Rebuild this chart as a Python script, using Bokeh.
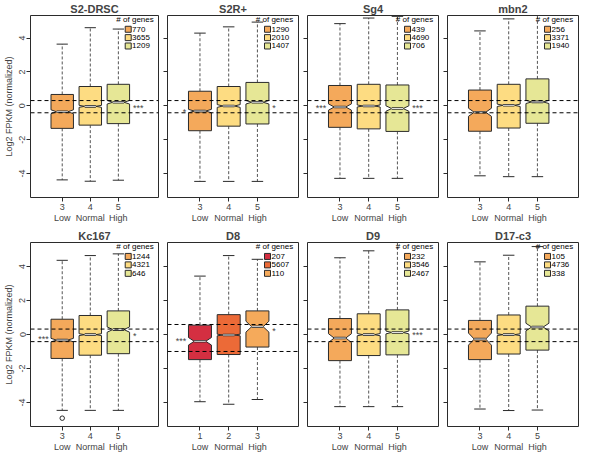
import math
from bokeh.plotting import figure
from bokeh.layouts import column, row
from bokeh.models import Range1d, LinearAxis, FixedTicker, Span
from bokeh.embed import file_html
from bokeh.resources import INLINE
from bokeh.core.properties import value

FONT = "Liberation Sans"

# ---------------- data ----------------
panel_names = ["S2-DRSC", "S2R+", "Sg4", "mbn2", "Kc167", "D8", "D9", "D17-c3"]
group_labels = ["Low", "Normal", "High"]
group_numbers = [["3", "4", "5"], ["3", "4", "5"], ["3", "4", "5"], ["3", "4", "5"],
                 ["3", "4", "5"], ["1", "2", "3"], ["3", "4", "5"], ["3", "4", "5"]]
gene_counts = [[770, 3655, 1209], [1290, 2010, 1407], [439, 4690, 706], [256, 3371, 1940],
               [1244, 4321, 646], [207, 5607, 110], [232, 3546, 2467], [105, 4736, 338]]

whisker_low = [[-4.37, -4.45, -4.39], [-4.46, -4.46, -4.46], [-4.28, -4.28, -4.28], [-4.13, -4.18, -4.18],
               [-4.47, -4.47, -4.47], [-3.96, -4.11, -3.83], [-4.25, -4.25, -4.25], [-4.39, -4.48, -4.45]]
quart1 = [[-1.33, -1.14, -1.05], [-1.47, -1.20, -1.07], [-1.27, -1.36, -1.51], [-1.50, -1.31, -1.03],
          [-1.41, -1.22, -1.13], [-1.48, -1.18, -0.74], [-1.54, -1.24, -1.20], [-1.48, -1.15, -0.92]]
medians = [[-0.35, -0.03, 0.21], [-0.31, -0.01, 0.21], [-0.07, -0.01, -0.16], [-0.38, 0.03, 0.23],
           [-0.33, -0.01, 0.29], [-0.40, -0.03, 0.46], [-0.21, -0.01, 0.12], [-0.27, -0.01, 0.44]]
quart3 = [[0.67, 1.14, 1.27], [0.86, 1.14, 1.38], [1.20, 1.27, 1.23], [0.93, 1.27, 1.59],
          [0.90, 1.12, 1.39], [0.55, 1.17, 1.39], [0.94, 1.22, 1.45], [0.83, 1.15, 1.67]]
whisker_high = [[3.64, 4.61, 4.53], [4.29, 4.66, 4.94], [4.85, 5.18, 5.28], [4.42, 5.13, 5.40],
                [4.37, 4.65, 4.75], [3.44, 4.65, 4.43], [4.52, 4.93, 5.45], [4.28, 4.67, 5.18]]

ref_upper = [0.31, 0.31, 0.31, 0.31, 0.32, 0.59, 0.32, 0.32]
ref_lower = [-0.41, -0.41, -0.41, -0.41, -0.42, -1.00, -0.42, -0.42]

star_left = ["", "*", "***", "", "***", "***", "", ""]
star_left_y = [0, -0.22, -0.01, 0, -0.10, -0.27, 0, 0]
star_right = ["***", "*", "***", "", "*", "*", "***", ""]
star_right_y = [0.03, 0.03, -0.01, 0, 0.05, 0.33, 0.10, 0]

outlier_panel = [4]
outlier_group = [0]
outlier_value = [-4.93]

colors_default = ["#F4A95B", "#FDDC82", "#E6E796"]
colors_d8 = ["#D42F41", "#EC6A37", "#F5AA5B"]
panel_colors = [colors_default, colors_default, colors_default, colors_default,
                colors_default, colors_d8, colors_default, colors_default]

y_ticks = [-4, -2, 0, 2, 4]
y_tick_labels = ["-4", "-2", "0", "2", "4"]

# ---------------- layout ----------------
X_RANGE = (-0.13, 4.43)
ROW_YRANGE = [(-5.41, 5.33), (-5.42, 5.42)]
FRAME_W = 131
FRAME_H = 185
DARK = "#2b2b2b"


def make_panel(i):
    col = i % 4
    ri = i // 4
    yr = ROW_YRANGE[ri]
    left = 27 if col == 0 else 7
    right = 2
    top = 13 if ri == 0 else 17
    bottom = 27
    W = left + FRAME_W + right
    H = top + FRAME_H + bottom
    p = figure(width=W, height=H, x_range=Range1d(*X_RANGE), y_range=Range1d(*yr),
               toolbar_location=None, output_backend="svg",
               x_axis_location=None, y_axis_location=None,
               min_border_left=left, min_border_right=right,
               min_border_top=top, min_border_bottom=bottom)
    p.grid.visible = False
    p.outline_line_color = DARK
    p.outline_line_width = 1
    p.background_fill_color = "white"
    p.border_fill_color = "white"

    p.title.text = panel_names[i]
    p.title.align = "center"
    p.title.text_font = FONT
    p.title.text_font_size = "11px"
    p.title.text_font_style = "bold"
    p.title.standoff = 1
    p.title.offset = 0

    ux = FRAME_W / (X_RANGE[1] - X_RANGE[0])
    uy = FRAME_H / (yr[1] - yr[0])

    cols = panel_colors[i]
    hw = 0.4
    for g in range(3):
        x = g + 1
        q1v, mv, q3v = quart1[i][g], medians[i][g], quart3[i][g]
        lo, hi = whisker_low[i][g], whisker_high[i][g]
        c = 1.58 * (q3v - q1v) / math.sqrt(gene_counts[i][g])
        # whiskers
        p.segment(x0=[x, x], y0=[q3v, q1v], x1=[x, x], y1=[hi, lo],
                  line_color="#555555", line_width=1, line_dash="3 2")
        p.segment(x0=[x - hw / 2, x - hw / 2], y0=[hi, lo], x1=[x + hw / 2, x + hw / 2], y1=[hi, lo],
                  line_color=DARK, line_width=1)
        xs = [x - hw, x + hw, x + hw, x + hw * 0.5, x + hw, x + hw, x - hw, x - hw, x - hw * 0.5, x - hw]
        ys = [q1v, q1v, mv - c, mv, mv + c, q3v, q3v, mv + c, mv, mv - c]
        p.patch(xs, ys, fill_color=cols[g], line_color=DARK, line_width=1)
        p.segment(x0=[x - hw * 0.5], y0=[mv], x1=[x + hw * 0.5], y1=[mv], line_color=DARK, line_width=2.6)
        p.segment(x0=[x - hw * 0.5], y0=[mv], x1=[x + hw * 0.5], y1=[mv], line_color="white", line_width=0.9)

    # outliers
    for k in range(len(outlier_panel)):
        if outlier_panel[k] == i:
            p.scatter([outlier_group[k] + 1], [outlier_value[k]], marker="circle", size=4.5,
                      fill_color=None, line_color=DARK, line_width=1)

    # reference lines
    for loc in (ref_upper[i], ref_lower[i]):
        p.add_layout(Span(location=loc, dimension="width", line_color="black",
                          line_width=1, line_dash="4 3"))

    # significance stars
    shift = 2.4 / uy
    if star_left[i]:
        p.text([0.52], [star_left_y[i] - shift], text=[star_left[i]], text_font=value(FONT),
               text_font_size="9px", text_color="#444444", text_align="right", text_baseline="middle")
    if star_right[i]:
        p.text([3.52], [star_right_y[i] - shift], text=[star_right[i]], text_font=value(FONT),
               text_font_size="9px", text_color="#444444", text_align="left", text_baseline="middle")

    # legend
    xr = X_RANGE[1]
    yt = yr[1]
    p.text([xr - 24 / ux], [yt - 4.5 / uy], text=["# of genes"], text_font=value(FONT),
           text_font_size="8px", text_color="black", text_align="center", text_baseline="middle")
    rows_y = [yt - (14 + 8.5 * k) / uy for k in range(3)]
    p.scatter([xr - 31 / ux] * 3, rows_y, marker="square", size=6, fill_color=cols,
              line_color=DARK, line_width=1)
    p.text([xr - 27 / ux] * 3, rows_y, text=[str(v) for v in gene_counts[i]], text_font=value(FONT),
           text_font_size="8px", text_color="black", text_align="left", text_baseline="middle")

    # axes
    yaxis = LinearAxis(ticker=FixedTicker(ticks=y_ticks),
                       major_tick_out=4, major_tick_in=0, minor_tick_out=0, minor_tick_in=0,
                       axis_line_color=None, major_tick_line_color=DARK,
                       major_label_orientation="vertical",
                       major_label_text_font=FONT)
    if col == 0:
        yaxis.major_label_overrides = {t: s for t, s in zip(y_ticks, y_tick_labels)}
        yaxis.major_label_text_font_size = "9px"
        yaxis.major_label_standoff = 1
        yaxis.axis_label = "Log2 FPKM (normalized)"
        yaxis.axis_label_text_font = FONT
        yaxis.axis_label_text_font_size = "9px"
        yaxis.axis_label_text_font_style = "normal"
        yaxis.axis_label_standoff = 3
    else:
        yaxis.major_label_text_font_size = "1px"
        yaxis.major_label_text_color = None
        yaxis.major_label_standoff = 0
    p.add_layout(yaxis, "left")

    xt = [1, 2, 3]
    xaxis1 = LinearAxis(ticker=FixedTicker(ticks=xt),
                        major_label_overrides={t: s for t, s in zip(xt, group_numbers[i])},
                        major_tick_out=4, major_tick_in=0, minor_tick_out=0, minor_tick_in=0,
                        axis_line_color=None, major_tick_line_color=DARK,
                        major_label_standoff=2, major_label_text_font=FONT,
                        major_label_text_font_size="9px")
    xaxis2 = LinearAxis(ticker=FixedTicker(ticks=xt),
                        major_label_overrides={t: s for t, s in zip(xt, group_labels)},
                        major_tick_out=0, major_tick_in=0, minor_tick_out=0, minor_tick_in=0,
                        axis_line_color=None, major_tick_line_color=None,
                        major_label_standoff=0, major_label_text_font=FONT,
                        major_label_text_font_size="9px")
    p.add_layout(xaxis1, "below")
    p.add_layout(xaxis2, "below")
    return p


panels = [make_panel(i) for i in range(8)]
layout = column(row(*panels[:4], spacing=0), row(*panels[4:], spacing=0), spacing=0)

open("out.html", "w").write(file_html(layout, INLINE))
